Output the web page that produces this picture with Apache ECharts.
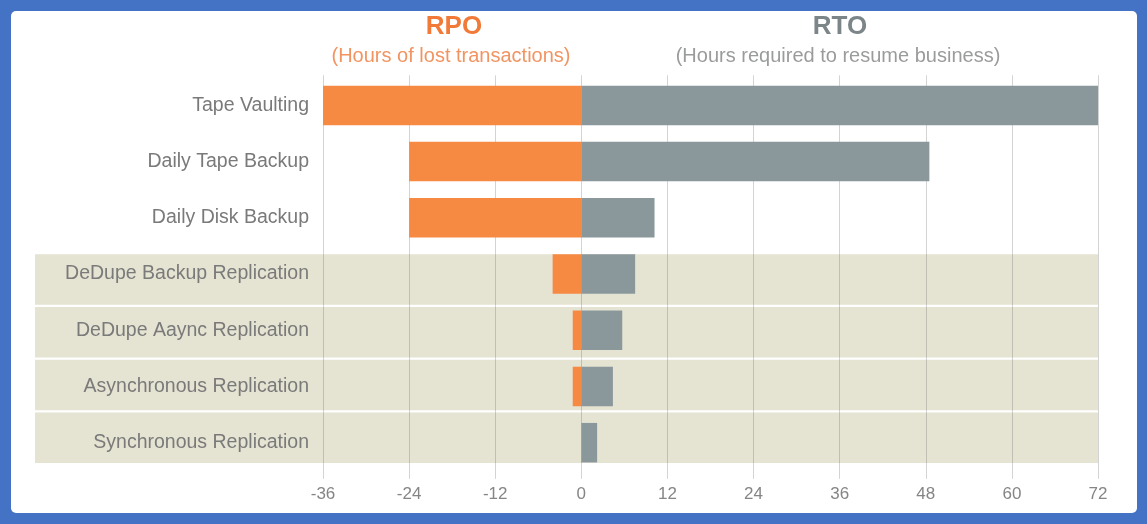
<!DOCTYPE html>
<html>
<head>
<meta charset="utf-8">
<script src="https://cdn.jsdelivr.net/npm/echarts@6/dist/echarts.min.js"></script>
<style>
html,body{margin:0;padding:0;background:#4472c4;}
#paper{position:absolute;left:11px;top:11px;width:1126px;height:502px;background:#fff;border-radius:5px;}
#chart{position:absolute;left:0;top:0;width:1147px;height:524px;}
</style>
</head>
<body>
<div id="paper"></div>
<div id="chart"></div>
<script>
const categories = ['Tape Vaulting','Daily Tape Backup','Daily Disk Backup','DeDupe Backup Replication','DeDupe Aaync Replication','Asynchronous Replication','Synchronous Replication'];
const rpoHours = [-36, -24, -24, -4, -1.2, -1.2, 0];
const rtoHours = [72, 48.5, 10.2, 7.5, 5.7, 4.4, 2.2];
const shadedRows = [0, 0, 0, 1, 1, 1, 1];
const tickValues = [-36, -24, -12, 0, 12, 24, 36, 48, 60, 72];

const FONT = 'Liberation Sans';
const gridColor = 'rgba(110,110,110,0.3)';
const axisMin = tickValues[0], axisMax = tickValues[tickValues.length-1], axisStep = tickValues[1]-tickValues[0];

const chart = echarts.init(document.getElementById('chart'), null, {renderer:'canvas'});
chart.setOption({
  backgroundColor: 'transparent',
  animation: false,
  graphic: [
    {type:'text', x:454, y:27, z:10, style:{text:'RPO', fill:'#f27a38', font:'bold 26px "Liberation Sans"', textAlign:'center', textVerticalAlign:'middle'}},
    {type:'text', x:451, y:56, z:10, style:{text:'(Hours of lost transactions)', fill:'#f29462', font:'20px "Liberation Sans"', textAlign:'center', textVerticalAlign:'middle'}},
    {type:'text', x:840, y:27, z:10, style:{text:'RTO', fill:'#7c8588', font:'bold 26px "Liberation Sans"', textAlign:'center', textVerticalAlign:'middle'}},
    {type:'text', x:838, y:56, z:10, style:{text:'(Hours required to resume business)', fill:'#9a9c9c', font:'20px "Liberation Sans"', textAlign:'center', textVerticalAlign:'middle'}}
  ],
  grid: [
    {left:323, right:49, top:77.3, bottom:53.2},
    {left:35, right:49, top:94.75, bottom:60}
  ],
  xAxis: [
    {type:'value', gridIndex:0, min:axisMin, max:axisMax, interval:axisStep, z:1,
     axisLine:{show:false},
     axisTick:{show:true, length:8, lineStyle:{color:gridColor}},
     splitLine:{show:true, lineStyle:{color:gridColor, width:1}},
     axisLabel:{margin:15, color:'#858585', fontFamily:FONT, fontSize:17}},
    {type:'value', gridIndex:0, position:'top', min:axisMin, max:axisMax, interval:axisStep, z:1,
     axisLine:{show:false},
     axisTick:{show:true, length:2, lineStyle:{color:gridColor}},
     splitLine:{show:false}, axisLabel:{show:false}},
    {type:'value', gridIndex:1, min:0, max:1, show:false}
  ],
  yAxis: [
    {type:'category', gridIndex:0, data:categories, inverse:true, z:3,
     axisLine:{show:false}, axisTick:{show:false}, splitLine:{show:false},
     axisLabel:{margin:14, color:'#7a7a7a', fontFamily:FONT, fontSize:19.5}},
    {type:'category', gridIndex:1, data:categories, inverse:true, show:false}
  ],
  series: [
    {name:'shade', type:'bar', xAxisIndex:2, yAxisIndex:1, data:shadedRows, barWidth:50.5, z:0, silent:true,
     itemStyle:{color:'#e5e3d2'}},
    {name:'RPO', type:'bar', xAxisIndex:0, yAxisIndex:0, stack:'t', data:rpoHours, barWidth:39.5, z:2,
     itemStyle:{color:'#f68a43'}},
    {name:'RTO', type:'bar', xAxisIndex:0, yAxisIndex:0, stack:'t', data:rtoHours, barWidth:39.5, z:2,
     itemStyle:{color:'#8a989b'}}
  ]
});
</script>
</body>
</html>
